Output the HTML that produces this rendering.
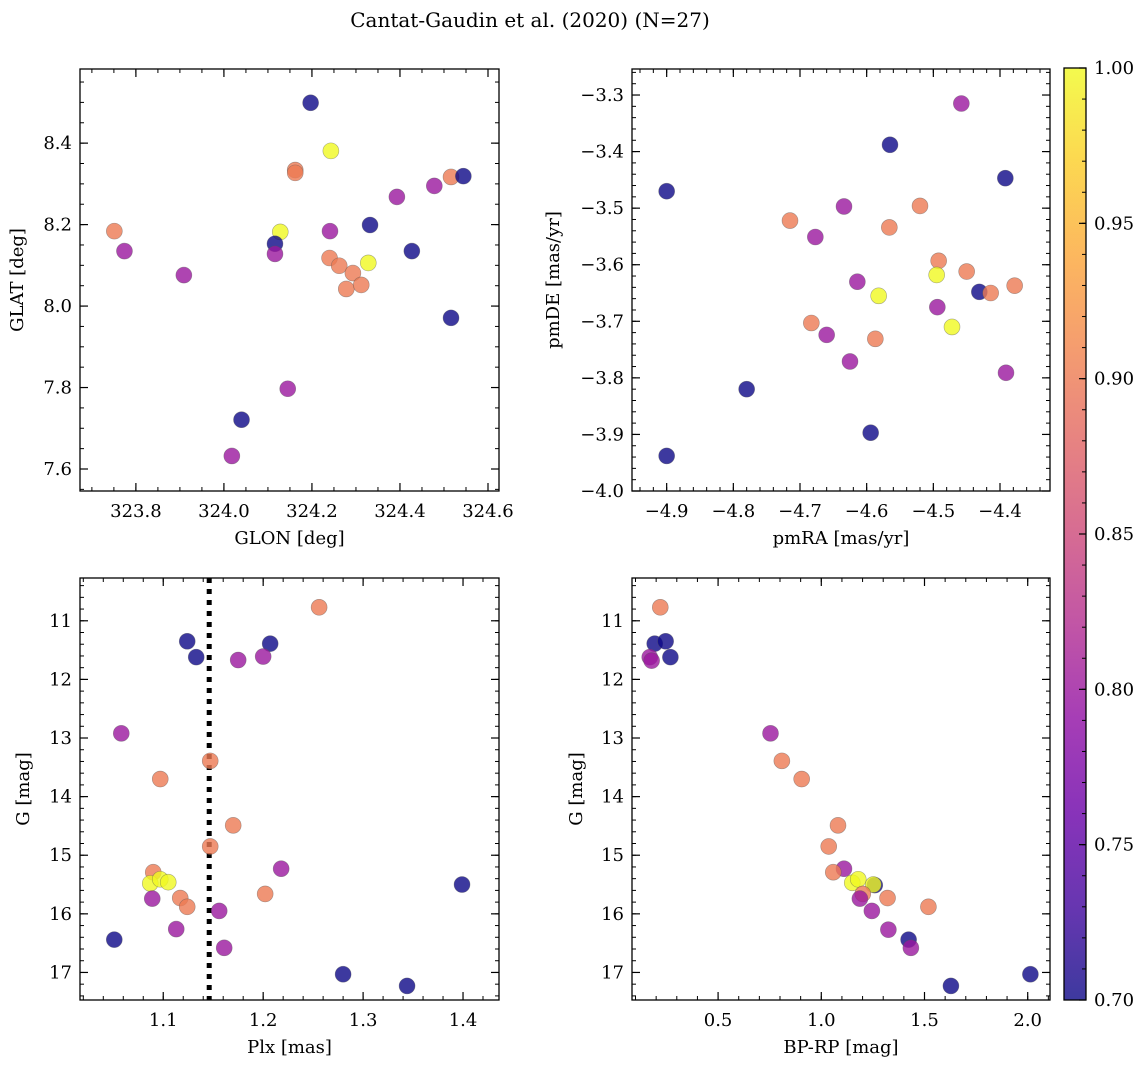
<!DOCTYPE html>
<html><head><meta charset="utf-8">
<style>
body{margin:0;background:#fff;}
svg text{font-family:"DejaVu Serif","Liberation Serif",serif;fill:#000;}
</style></head>
<body>
<svg id="fig" width="1148" height="1068" viewBox="0 0 1148 1068" xmlns="http://www.w3.org/2000/svg">
<defs>
<linearGradient id="cbgrad" x1="0" y1="1" x2="0" y2="0">
<stop offset="0" stop-color="#0d0887"/><stop offset="0.1" stop-color="#41049d"/><stop offset="0.2" stop-color="#6a00a8"/><stop offset="0.3" stop-color="#8f0da4"/><stop offset="0.4" stop-color="#b12a90"/><stop offset="0.5" stop-color="#cc4778"/><stop offset="0.6" stop-color="#e16462"/><stop offset="0.7" stop-color="#f2844b"/><stop offset="0.8" stop-color="#fca636"/><stop offset="0.9" stop-color="#fcce25"/><stop offset="1" stop-color="#f0f921"/>
</linearGradient>
</defs>
<text x="530" y="27" text-anchor="middle" font-size="20">Cantat-Gaudin et al. (2020) (N=27)</text>
</svg>
<script>
// Panel 1: GLON vs GLAT
const glon = [323.751,323.774,323.909,324.197,324.243,324.162,324.162,324.128,324.116,324.116,324.241,324.240,324.262,324.293,324.278,324.312,324.328,324.332,324.393,324.427,324.478,324.516,324.544,324.516,324.145,324.040,324.018];
const glat = [8.184,8.135,8.076,8.499,8.381,8.334,8.327,8.182,8.153,8.128,8.184,8.118,8.099,8.081,8.042,8.052,8.106,8.199,8.268,8.135,8.295,8.317,8.319,7.971,7.797,7.721,7.632];
const prob1 = [0.9,0.8,0.8,0.7,1.0,0.9,0.9,1.0,0.7,0.8,0.8,0.9,0.9,0.9,0.9,0.9,1.0,0.7,0.8,0.7,0.8,0.9,0.7,0.7,0.8,0.7,0.8];
// Panel 2: pmRA vs pmDE
const pmra = [-4.900,-4.780,-4.900,-4.565,-4.458,-4.392,-4.715,-4.634,-4.677,-4.520,-4.566,-4.492,-4.495,-4.450,-4.431,-4.414,-4.378,-4.614,-4.582,-4.494,-4.472,-4.683,-4.660,-4.587,-4.625,-4.391,-4.594];
const pmde = [-3.470,-3.820,-3.938,-3.388,-3.315,-3.447,-3.522,-3.497,-3.551,-3.496,-3.534,-3.593,-3.618,-3.612,-3.648,-3.650,-3.637,-3.630,-3.655,-3.675,-3.710,-3.703,-3.724,-3.731,-3.771,-3.791,-3.897];
const prob2 = [0.7,0.7,0.7,0.7,0.8,0.7,0.9,0.8,0.8,0.9,0.9,0.9,1.0,0.9,0.7,0.9,0.9,0.8,1.0,0.8,1.0,0.9,0.8,0.9,0.8,0.8,0.7];
// Panel 3: Plx vs G
const plx = [1.256,1.124,1.133,1.207,1.175,1.200,1.058,1.147,1.097,1.170,1.147,1.218,1.090,1.087,1.097,1.105,1.399,1.202,1.089,1.117,1.124,1.156,1.113,1.051,1.161,1.280,1.344];
const gmag3 = [10.77,11.35,11.62,11.39,11.67,11.61,12.92,13.39,13.70,14.49,14.85,15.23,15.29,15.48,15.41,15.46,15.50,15.66,15.74,15.73,15.88,15.95,16.26,16.44,16.58,17.03,17.23];
const prob3 = [0.9,0.7,0.7,0.7,0.8,0.8,0.8,0.9,0.9,0.9,0.9,0.8,0.9,1.0,1.0,1.0,0.7,0.9,0.8,0.9,0.9,0.8,0.8,0.7,0.8,0.7,0.7];
const plxLine = [1.146];
// Panel 4: BP-RP vs G
const bprp = [0.220,0.193,0.246,0.269,0.169,0.178,0.754,0.809,0.905,1.081,1.036,1.110,1.058,1.259,1.150,1.179,1.252,1.201,1.187,1.321,1.519,1.245,1.325,1.423,1.434,1.628,2.013];
const gmag4 = [10.77,11.39,11.35,11.62,11.62,11.68,12.92,13.39,13.70,14.49,14.85,15.23,15.29,15.51,15.47,15.41,15.50,15.66,15.74,15.73,15.88,15.95,16.27,16.44,16.58,17.23,17.03];
const prob4 = [0.9,0.7,0.7,0.7,0.8,0.8,0.8,0.9,0.9,0.9,0.9,0.8,0.9,0.7,1.0,1.0,1.0,0.9,0.8,0.9,0.9,0.8,0.8,0.7,0.8,0.7,0.7];
// Tick labels
const ticks1x = [323.8,324.0,324.2,324.4,324.6];
const ticks1y = [7.6,7.8,8.0,8.2,8.4];
const ticks2x = [-4.9,-4.8,-4.7,-4.6,-4.5,-4.4];
const ticks2y = [-4.0,-3.9,-3.8,-3.7,-3.6,-3.5,-3.4,-3.3];
const ticks3x = [1.1,1.2,1.3,1.4];
const ticksGy = [11,12,13,14,15,16,17];
const ticks4x = [0.5,1.0,1.5,2.0];
const cbTicks = [0.70,0.75,0.80,0.85,0.90,0.95,1.00];

const NS = 'http://www.w3.org/2000/svg';
const svg = document.getElementById('fig');
function mk(tag, attrs, parent){
  const e = document.createElementNS(NS, tag);
  for (const k in attrs) e.setAttribute(k, attrs[k]);
  (parent||svg).appendChild(e);
  return e;
}
const stops = ['#0d0887','#41049d','#6a00a8','#8f0da4','#b12a90','#cc4778','#e16462','#f2844b','#fca636','#fcce25','#f0f921'];
function hx(c){return [parseInt(c.slice(1,3),16),parseInt(c.slice(3,5),16),parseInt(c.slice(5,7),16)];}
function plasma(v){
  let t = (v-0.7)/0.3; t=Math.max(0,Math.min(1,t));
  const f=t*10, i=Math.min(9,Math.floor(f)), r=f-i;
  const a=hx(stops[i]), b=hx(stops[i+1]);
  return 'rgb('+a.map((x,k)=>Math.round(x+(b[k]-x)*r)).join(',')+')';
}
function fmt(v,d){ const s=v.toFixed(d); return s.replace('-','\u2212'); }

function panel(o){
  const g = mk('g',{});
  
  
  const sx = v => o.x0 + (v-o.xmin)/(o.xmax-o.xmin)*(o.x1-o.x0);
  const sy = o.invert ? (v => o.y0 + (v-o.ymin)/(o.ymax-o.ymin)*(o.y1-o.y0))
                      : (v => o.y1 - (v-o.ymin)/(o.ymax-o.ymin)*(o.y1-o.y0));
  const mt = mk('g',{stroke:'#000','stroke-width':1},g);
  
  
  for (let v=Math.ceil(o.xmin/o.xminor)*o.xminor; v<=o.xmax; v+=o.xminor){
    const X=sx(v); mk('line',{x1:X,x2:X,y1:o.y1,y2:o.y1-4},mt); mk('line',{x1:X,x2:X,y1:o.y0,y2:o.y0+4},mt);
  }
  for (let v=Math.ceil(o.ymin/o.yminor)*o.yminor; v<=o.ymax; v+=o.yminor){
    const Y=sy(v); mk('line',{x1:o.x0,x2:o.x0+4,y1:Y,y2:Y},mt); mk('line',{x1:o.x1,x2:o.x1-4,y1:Y,y2:Y},mt);
  }
  o.xt.forEach(v=>{
    const X=sx(v);
    mk('line',{x1:X,x2:X,y1:o.y1,y2:o.y1-8,stroke:'#000','stroke-width':1.2},g);
    mk('line',{x1:X,x2:X,y1:o.y0,y2:o.y0+8,stroke:'#000','stroke-width':1.2},g);
    const t=mk('text',{x:X,y:o.y1+26,'text-anchor':'middle','font-size':18},g);
    
    
    t.textContent=fmt(v,o.xd);
  });
  o.yt.forEach(v=>{
    const Y=sy(v);
    mk('line',{x1:o.x0,x2:o.x0+8,y1:Y,y2:Y,stroke:'#000','stroke-width':1.2},g);
    mk('line',{x1:o.x1,x2:o.x1-8,y1:Y,y2:Y,stroke:'#000','stroke-width':1.2},g);
    const t=mk('text',{x:o.x0-8,y:Y+6,'text-anchor':'end','font-size':18},g);
    
    
    t.textContent=fmt(v,o.yd);
  });
  if (o.vline){
    o.vline.forEach(v=>{
      const l=mk('line',{x1:sx(v),x2:sx(v),y1:o.y0,y2:o.y1,stroke:'#000','stroke-width':5,'stroke-dasharray':'5 6'},g);
      
      
    });
  }
  const pts = mk('g',{},g);
  
  
  o.xs.forEach((xv,i)=>{
    const c=mk('circle',{cx:sx(xv),cy:sy(o.ys[i]),r:8,fill:plasma(o.cs[i]),'fill-opacity':0.8,stroke:'#555','stroke-opacity':0.5,'stroke-width':0.6},pts);
    
    
  });
  const fr=mk('rect',{x:o.x0,y:o.y0,width:o.x1-o.x0,height:o.y1-o.y0,fill:'none',stroke:'#000','stroke-width':1.3},g);
  
  
  const xl=mk('text',{x:(o.x0+o.x1)/2,y:o.y1+53,'text-anchor':'middle','font-size':18},g);
  
  
  xl.textContent=o.xlabel;
  const yx=o.ylx, yy=(o.y0+o.y1)/2;
  const yl=mk('text',{x:yx,y:yy,'text-anchor':'middle','font-size':18,transform:'rotate(-90 '+yx+' '+yy+')'},g);
  
  
  yl.textContent=o.ylabel;
}

panel({name:'glon-glat-panel',x0:80,x1:499,y0:69,y1:491,xmin:323.673,xmax:324.625,ymin:7.546,ymax:8.582,
  xt:ticks1x,yt:ticks1y,xd:1,yd:1,xminor:0.05,yminor:0.05,xs:glon,ys:glat,cs:prob1,xlabel:'GLON [deg]',ylabel:'GLAT [deg]',ylx:23});
panel({name:'pm-panel',x0:632,x1:1050,y0:69,y1:491,xmin:-4.952,xmax:-4.325,ymin:-4.0,ymax:-3.254,
  xt:ticks2x,yt:ticks2y,xd:1,yd:1,xminor:0.02,yminor:0.02,xs:pmra,ys:pmde,cs:prob2,xlabel:'pmRA [mas/yr]',ylabel:'pmDE [mas/yr]',ylx:559});
panel({name:'plx-g-panel',x0:80,x1:499,y0:578,y1:1000,xmin:1.0167,xmax:1.436,ymin:10.27,ymax:17.47,invert:true,
  xt:ticks3x,yt:ticksGy,xd:1,yd:0,xminor:0.02,yminor:0.2,xs:plx,ys:gmag3,cs:prob3,xlabel:'Plx [mas]',ylabel:'G [mag]',ylx:29,vline:plxLine});
panel({name:'cmd-panel',x0:632,x1:1050,y0:578,y1:1000,xmin:0.083,xmax:2.108,ymin:10.27,ymax:17.47,invert:true,
  xt:ticks4x,yt:ticksGy,xd:1,yd:0,xminor:0.1,yminor:0.2,xs:bprp,ys:gmag4,cs:prob4,xlabel:'BP-RP [mag]',ylabel:'G [mag]',ylx:582});

// Colorbar
const cb = mk('g',{});


const cbr = mk('rect',{x:1064,y:68,width:22,height:932,fill:'url(#cbgrad)','fill-opacity':0.8,stroke:'#000','stroke-width':1.3},cb);


const cy = v => 1000 - (v-0.7)/0.3*932;
for (let v=0.70; v<=1.0001; v+=0.01){
  const Y=cy(v); mk('line',{x1:1086,x2:1082,y1:Y,y2:Y,stroke:'#000','stroke-width':1},cb);
}
cbTicks.forEach(v=>{
  const Y=cy(v);
  mk('line',{x1:1086,x2:1079,y1:Y,y2:Y,stroke:'#000','stroke-width':1.2},cb);
  const t=mk('text',{x:1094,y:Y+6,'font-size':18},cb);
  
  
  t.textContent=v.toFixed(2);
});
</script>
</body></html>
